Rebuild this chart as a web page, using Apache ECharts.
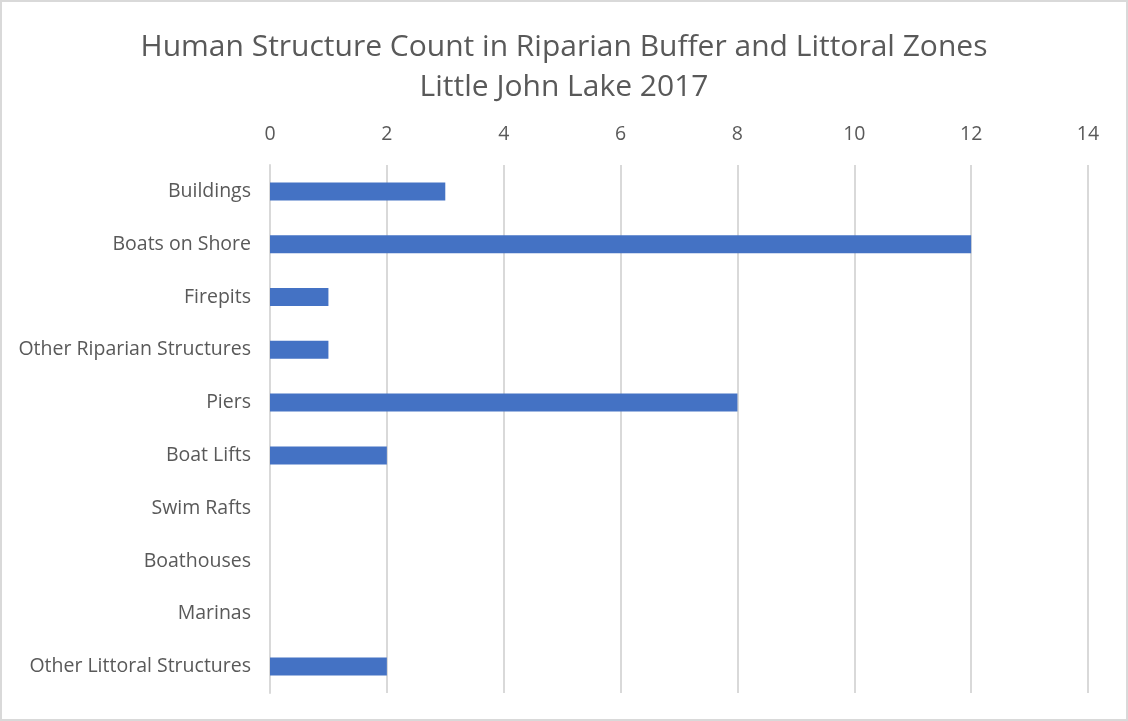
<!DOCTYPE html>
<html>
<head>
<meta charset="utf-8">
<script src="https://cdn.jsdelivr.net/npm/echarts@6/dist/echarts.min.js"></script>
<style>
html,body{margin:0;padding:0;background:#fff;}
#chart{width:1128px;height:721px;box-sizing:border-box;border:2px solid #d9d9d9;}
</style>
</head>
<body>
<div id="chart"></div>
<script>
const categories = ["Buildings","Boats on Shore","Firepits","Other Riparian Structures","Piers","Boat Lifts","Swim Rafts","Boathouses","Marinas","Other Littoral Structures"];
const counts = [3,12,1,1,8,2,0,0,0,2];
const titleLines = ["Human Structure Count in Riparian Buffer and Littoral Zones","Little John Lake 2017"];

const FONT = 'Open Sans';
const chart = echarts.init(document.getElementById('chart'));
chart.setOption({
  animation:false,
  title:{
    text:titleLines.join('\n'),
    left:'center',
    top:20,
    textStyle:{fontFamily:FONT,fontSize:30,fontWeight:'normal',color:'#595959',lineHeight:40}
  },
  grid:{left:268,right:38,top:163,bottom:26,containLabel:false},
  xAxis:{
    type:'value',position:'top',min:0,max:14,interval:2,
    axisLine:{show:false},axisTick:{show:false},
    axisLabel:{color:'#595959',fontFamily:FONT,fontSize:19.5,margin:21},
    splitLine:{lineStyle:{color:'#d9d9d9',width:2}}
  },
  yAxis:{
    type:'category',inverse:true,data:categories,
    axisLine:{show:true,lineStyle:{color:'#d9d9d9',width:2}},
    axisTick:{show:false},
    axisLabel:{color:'#595959',fontFamily:FONT,fontSize:19.5,margin:19}
  },
  series:[{
    type:'bar',data:counts,barWidth:18,
    itemStyle:{color:'#4472C4'}
  }]
});
</script>
</body>
</html>
